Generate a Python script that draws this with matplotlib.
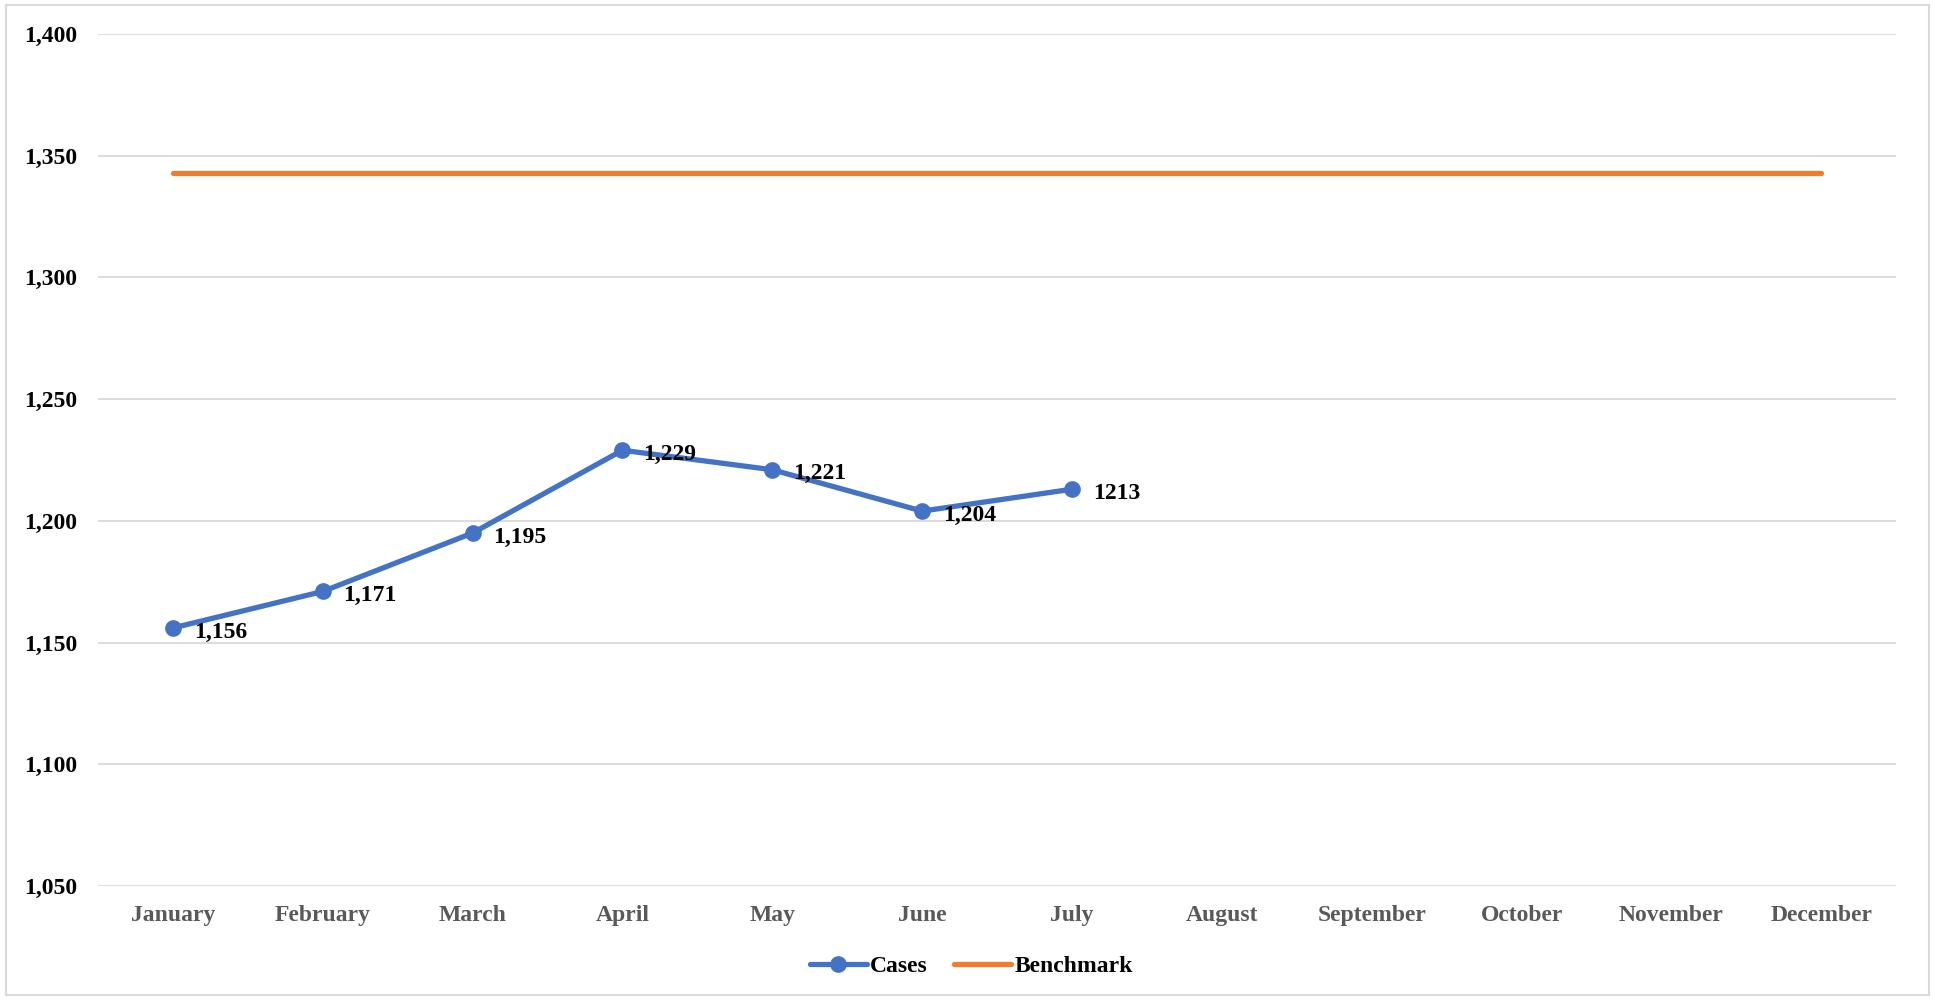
import matplotlib.pyplot as plt
from matplotlib.patches import Rectangle

# Data
months = ['January', 'February', 'March', 'April', 'May', 'June',
          'July', 'August', 'September', 'October', 'November', 'December']
cases = [1156, 1171, 1195, 1229, 1221, 1204, 1213]
case_labels = ['1,156', '1,171', '1,195', '1,229', '1,221', '1,204', '1213']
benchmark = [1343] * 12
y_ticks = [1050, 1100, 1150, 1200, 1250, 1300, 1350, 1400]

plt.rcParams['font.family'] = ['Liberation Serif', 'DejaVu Serif']
plt.rcParams['font.weight'] = 'bold'

fig = plt.figure(figsize=(19.35, 10), dpi=100)
ax = fig.add_axes([0.0506, 0.114, 0.9294, 0.852])

x_all = list(range(len(months)))
x_cases = x_all[:len(cases)]

ax.plot(x_cases, cases, color='#4472C4', linewidth=3.8, marker='o',
        markersize=11, label='Cases', solid_capstyle='round', zorder=3)
ax.plot(x_all, benchmark, color='#ED7D31', linewidth=3.8,
        label='Benchmark', solid_capstyle='round', zorder=2)

for xi, yi, lab in zip(x_cases, cases, case_labels):
    ax.annotate(lab, (xi, yi), xytext=(15, -3), textcoords='offset points',
                ha='left', va='center', fontsize=17, fontweight='bold',
                color='black')

ax.set_xlim(-0.5, 11.5)
ax.set_ylim(1050, 1400)
ax.set_yticks(y_ticks)
ax.set_yticklabels([f'{v:,}' for v in y_ticks])
ax.set_xticks(x_all)
ax.set_xticklabels(months)

ax.grid(axis='y', color='#d9d9d9', linewidth=1.3)
ax.set_axisbelow(True)
for s in ax.spines.values():
    s.set_visible(False)
ax.tick_params(axis='both', length=0)
ax.tick_params(axis='y', labelsize=17, labelcolor='black', pad=15)
ax.tick_params(axis='x', labelsize=17, labelcolor='#595959', pad=14)

leg = fig.legend(loc='center', bbox_to_anchor=(0.502, 0.034), ncol=2,
                 frameon=False, fontsize=17, handlelength=2.4,
                 columnspacing=1.1, handletextpad=0.15)

fig.patches.append(Rectangle((0.003, 0.005), 0.994, 0.99,
                             transform=fig.transFigure, fill=False,
                             edgecolor='#d9d9d9', linewidth=1.5))

fig.savefig('out.png', dpi=100)
plt.close()
